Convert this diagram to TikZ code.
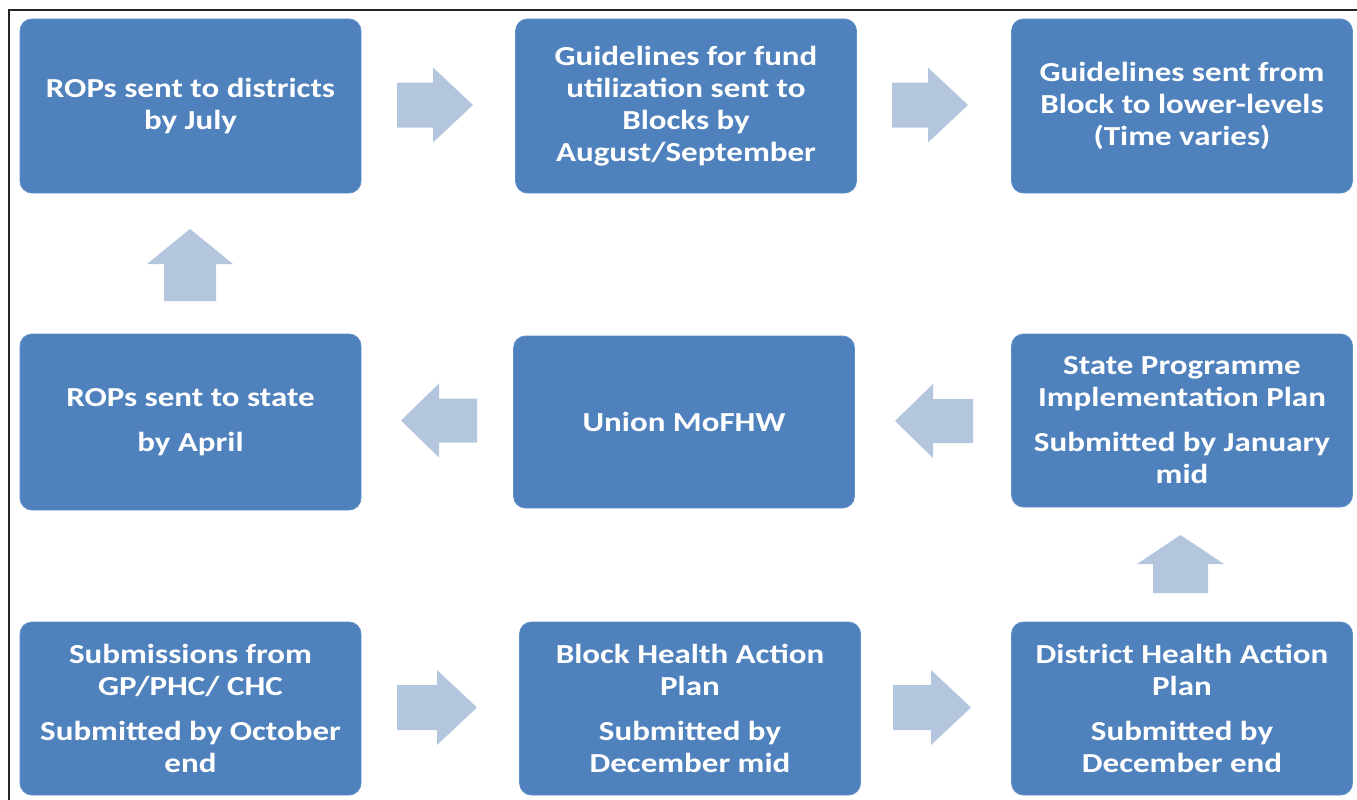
\documentclass[tikz,border=0pt]{standalone}
\usepackage{fontspec}
\setmainfont{Carlito}[FakeStretch=1.2]
\definecolor{boxblue}{RGB}{79,129,189}
\definecolor{boxedge}{RGB}{94,142,199}
\definecolor{arrowfill}{RGB}{180,197,222}
\tikzset{
  flowbox/.style={rounded corners=12pt, fill=boxblue, draw=boxedge, line width=0.8pt,
    minimum width=341pt, minimum height=174pt, text=white, inner sep=0pt,
    align=center, font=\bfseries\fontsize{27.5}{32}\selectfont},
  pics/barrow/.style n args={4}{code={
    \fill[arrowfill] (-#1/2,-#3) -- (#1/2-#2,-#3) -- (#1/2-#2,-#4) -- (#1/2,0)
      -- (#1/2-#2,#4) -- (#1/2-#2,#3) -- (-#1/2,#3) -- cycle;}}
}
\begin{document}
\begin{tikzpicture}[x=1pt,y=-1pt]
\useasboundingbox (0,0) rectangle (1357,800);
\draw[line width=1.3pt, black!85] (9,800) -- (9,10) -- (1357,10);

% row 1
\node[flowbox] (r1a) at (190.5,106) {ROPs sent to districts\\by July};
\node[flowbox] (r1b) at (686,106) {Guidelines for fund\\utilization sent to\\Blocks by\\August/September};
\node[flowbox] (r1c) at (1182,106) {Guidelines sent from\\Block to lower-levels\\(Time varies)};

% row 2
\node[flowbox, minimum height=176pt] (r2a) at (190.5,422) {ROPs sent to state\\[13pt]by April};
\node[flowbox, minimum height=172pt] (r2b) at (684,422) {Union MoFHW};
\node[flowbox, minimum height=173pt] (r2c) at (1182,420.5) {State Programme\\Implementation Plan\\[13pt]Submitted by January\\mid};

% row 3
\node[flowbox, minimum height=173pt] (r3a) at (190.5,708.5) {Submissions from\\GP/PHC/ CHC\\[13pt]Submitted by October\\end};
\node[flowbox, minimum height=173pt] (r3b) at (690,708.5) {Block Health Action\\Plan\\[13pt]Submitted by\\December mid};
\node[flowbox, minimum height=173pt] (r3c) at (1182,708.5) {District Health Action\\Plan\\[13pt]Submitted by\\December end};

% block arrows
\pic at (435,105) {barrow={76}{40}{22.5}{37.5}};
\pic at (930,105) {barrow={76}{40}{22.5}{37.5}};
\pic[rotate=90] at (190,265) {barrow={72}{35}{26}{43}};
\pic[rotate=180] at (439,420.5) {barrow={76}{38}{22}{37}};
\pic[rotate=180] at (934,421) {barrow={78}{38}{22}{37}};
\pic[rotate=90] at (1180.5,564) {barrow={58}{29}{27.5}{43.5}};
\pic at (437,707.5) {barrow={80}{40}{22.5}{37.5}};
\pic at (932,707.5) {barrow={78}{40}{22.5}{37.5}};
\end{tikzpicture}
\end{document}
